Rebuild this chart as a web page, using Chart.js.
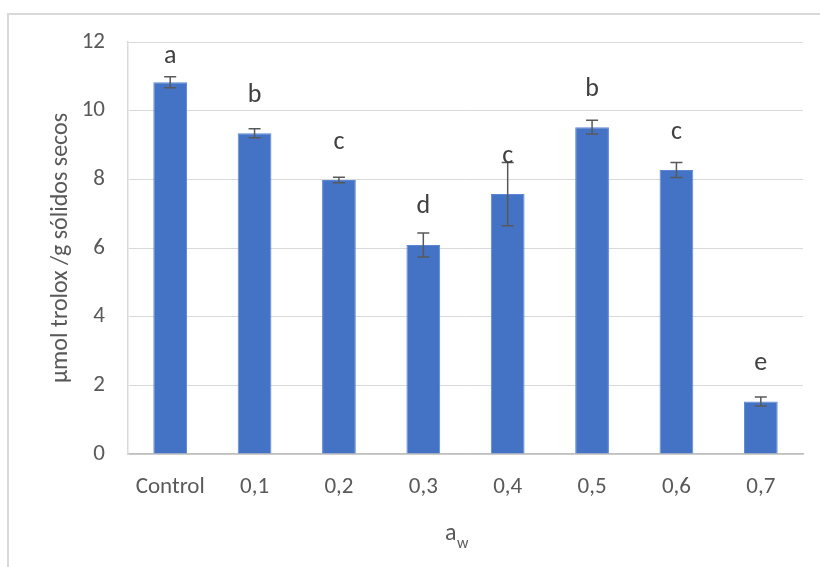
<!DOCTYPE html>
<html>
<head>
<meta charset="utf-8">
<script src="https://cdn.jsdelivr.net/npm/chart.js@4"></script>
<style>
  body { margin: 0; background: #fff; }
  #frame { position: absolute; left: 7px; top: 13px; width: 840px; height: 600px; border: 2px solid #d9d9d9; box-sizing: border-box; }
  #wrap { position: absolute; left: 0; top: 0; width: 820px; height: 567px; }
</style>
</head>
<body>
<div id="frame"></div>
<div id="wrap"><canvas id="chart" width="820" height="567"></canvas></div>
<script>
// data
const categories = ['Control', '0,1', '0,2', '0,3', '0,4', '0,5', '0,6', '0,7'];
const means = [10.83, 9.34, 7.98, 6.09, 7.57, 9.52, 8.27, 1.53];
const errors = [0.16, 0.13, 0.08, 0.35, 0.92, 0.2, 0.22, 0.13];
const letters = ['a', 'b', 'c', 'd', 'c', 'b', 'c', 'e'];
const yTicks = [0, 2, 4, 6, 8, 10, 12];

const textColor = '#595959';
const fontFamily = 'Carlito, Lato, sans-serif';

// error bars + significance letters
const extras = {
  id: 'extras',
  afterDatasetsDraw(chart) {
    const ctx = chart.ctx;
    const y = chart.scales.y;
    const meta = chart.getDatasetMeta(0);
    ctx.save();
    meta.data.forEach((bar, i) => {
      const x = bar.x;
      const top = y.getPixelForValue(means[i] + errors[i]);
      const bot = y.getPixelForValue(means[i] - errors[i]);
      ctx.strokeStyle = '#595959';
      ctx.lineWidth = 1.5;
      ctx.beginPath();
      ctx.moveTo(x, top); ctx.lineTo(x, bot);
      ctx.moveTo(x - 6, top); ctx.lineTo(x + 6, top);
      ctx.moveTo(x - 6, bot); ctx.lineTo(x + 6, bot);
      ctx.stroke();

      let ly = bar.y - 38;
      if (ly < chart.chartArea.top + 14) ly = chart.chartArea.top + 14;
      ctx.fillStyle = '#404040';
      ctx.font = '26px ' + fontFamily;
      ctx.textAlign = 'center';
      ctx.textBaseline = 'middle';
      ctx.fillText(letters[i], x, ly);
    });

    // x axis title: a with subscript w
    ctx.fillStyle = textColor;
    ctx.textBaseline = 'alphabetic';
    ctx.textAlign = 'left';
    ctx.font = '24px ' + fontFamily;
    ctx.fillText('a', 445, 540);
    ctx.font = '16px ' + fontFamily;
    ctx.fillText('w', 457, 548);
    ctx.restore();
  }
};

new Chart(document.getElementById('chart'), {
  type: 'bar',
  data: {
    labels: categories,
    datasets: [{
      data: means,
      backgroundColor: '#4472C4',
      borderColor: '#5b86d6',
      borderWidth: 1,
      categoryPercentage: 1,
      barPercentage: 0.4
    }]
  },
  options: {
    responsive: false,
    animation: false,
    layout: { padding: { left: 0, right: 17, top: 42, bottom: 0 } },
    plugins: { legend: { display: false }, tooltip: { enabled: false } },
    scales: {
      x: {
        grid: { display: false, drawTicks: false },
        border: { display: true, color: '#bfbfbf', width: 1.5 },
        ticks: { color: textColor, font: { family: fontFamily, size: 23 }, padding: 19, maxRotation: 0 },
        afterFit: s => { s.height = 113; }
      },
      y: {
        min: 0,
        max: 12,
        afterBuildTicks: s => { s.ticks = yTicks.map(v => ({ value: v })); },
        grid: { color: '#d9d9d9', lineWidth: 1, drawTicks: false },
        border: { display: true, color: '#d9d9d9', width: 1.5 },
        ticks: { color: textColor, font: { family: fontFamily, size: 23 }, padding: 23 },
        title: {
          display: true,
          text: 'µmol trolox /g sólidos secos',
          color: textColor,
          font: { family: fontFamily, size: 24 },
          padding: { top: 47, bottom: 0 }
        },
        afterFit: s => { s.width = 128; }
      }
    }
  },
  plugins: [extras]
});
</script>
</body>
</html>
